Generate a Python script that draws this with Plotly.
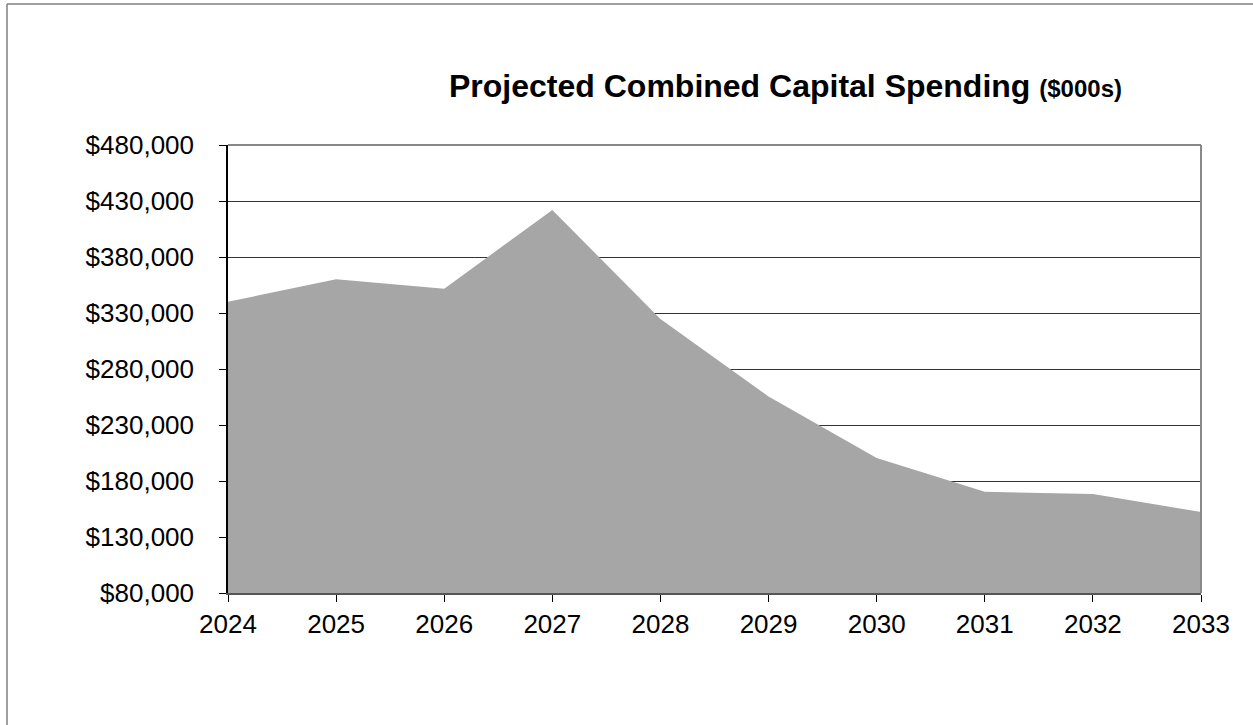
import plotly.graph_objects as go

years = ["2024", "2025", "2026", "2027", "2028", "2029", "2030", "2031", "2032", "2033"]
spending = [340100, 360100, 351700, 422000, 324600, 255500, 200500, 170400, 168400, 152300]
y_ticks = [80000, 130000, 180000, 230000, 280000, 330000, 380000, 430000, 480000]
y_ticktext = ["$80,000", "$130,000", "$180,000", "$230,000", "$280,000", "$330,000", "$380,000", "$430,000", "$480,000"]

W, H = 1253, 725
L, R, T, B = 228, 1201, 145, 593

fig = go.Figure()
fig.add_trace(go.Scatter(
    x=years, y=spending, mode="lines", fill="tozeroy",
    fillcolor="#A6A6A6", line=dict(width=0, color="#A6A6A6"),
    hoverinfo="x+y", showlegend=False,
))

def px_x(p):
    return (p - L) / (R - L)

def px_y(p):
    return (B - p) / (B - T)

shapes = [
    # outer frame (left and top edges visible)
    dict(type="line", xref="paper", yref="paper", x0=px_x(7), x1=px_x(7), y0=px_y(730), y1=px_y(4),
         line=dict(color="#7f7f7f", width=1.5)),
    dict(type="line", xref="paper", yref="paper", x0=px_x(7), x1=px_x(1260), y0=px_y(4), y1=px_y(4),
         line=dict(color="#7f7f7f", width=1.5)),
    # plot area top and right borders (gray)
    dict(type="line", xref="paper", yref="paper", x0=0, x1=1, y0=1, y1=1,
         line=dict(color="#888888", width=2), layer="above"),
    dict(type="line", xref="paper", yref="paper", x0=1, x1=1, y0=0, y1=1,
         line=dict(color="#888888", width=2), layer="above"),
]

fig.update_layout(
    width=W, height=H,
    margin=dict(l=L, r=W - R, t=T, b=H - B, pad=0),
    paper_bgcolor="white", plot_bgcolor="white",
    font=dict(family="Liberation Sans, Arial, sans-serif", color="black"),
    shapes=shapes,
    annotations=[dict(
        xref="paper", yref="paper", x=px_x(785), y=px_y(86), xanchor="center", yanchor="middle",
        text="<b>Projected Combined Capital Spending </b><b><span style='font-size:24px'>($000s)</span></b>",
        showarrow=False, font=dict(size=32, color="black", family="Liberation Sans, Arial, sans-serif"),
    )],
    xaxis=dict(
        type="category", range=[0, 9], showgrid=False,
        showline=True, linecolor="#555555", linewidth=2,
        ticks="outside", ticklen=7, tickcolor="black", tickwidth=1,
        tickfont=dict(size=26, color="black"), fixedrange=True,
    ),
    yaxis=dict(
        range=[80000, 480000], tickvals=y_ticks, ticktext=y_ticktext,
        showgrid=True, gridcolor="#333333", gridwidth=1,
        showline=True, linecolor="black", linewidth=1.5,
        ticks="outside", ticklen=7, tickcolor="black", tickwidth=1,
        tickfont=dict(size=26, color="black"), zeroline=False, fixedrange=True,
        ticklabelstandoff=20,
    ),
)

fig.write_html(
    "out.html",
    config={"displayModeBar": False},
    post_script="document.body.style.margin='0';document.body.style.overflow='hidden';",
)
